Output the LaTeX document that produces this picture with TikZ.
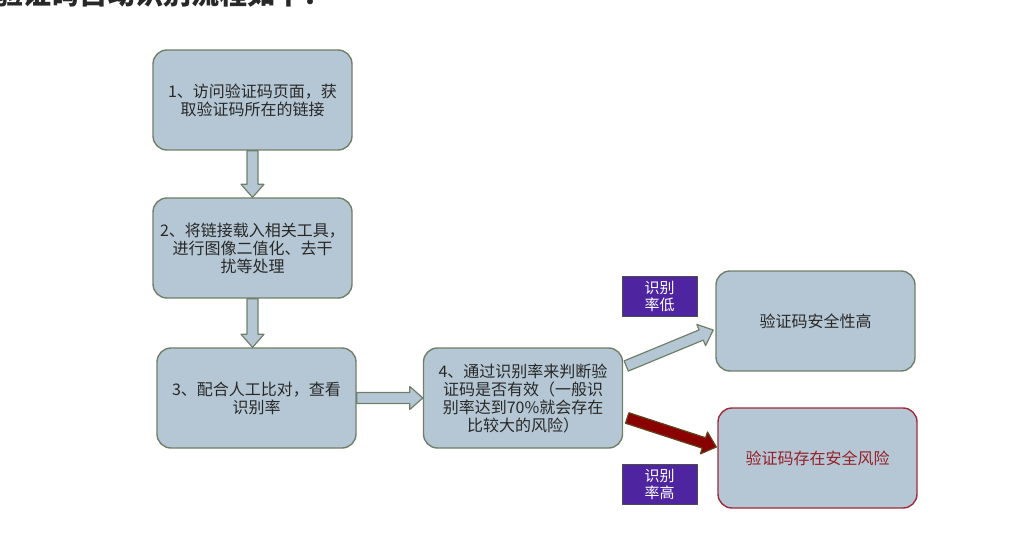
\documentclass[tikz,border=0pt]{standalone}
\usepackage{fontspec}
\newfontfamily\cjk{Noto Sans CJK SC}
\usetikzlibrary{calc}
\definecolor{Boxfill}{RGB}{181,199,212}
\definecolor{Boxline}{RGB}{112,128,104}
\definecolor{Riskline}{RGB}{158,42,58}
\definecolor{Risktext}{RGB}{150,30,40}
\definecolor{Redarrow}{RGB}{138,0,0}
\definecolor{Redrim}{RGB}{96,70,30}
\definecolor{Tagfill}{RGB}{78,36,160}
\definecolor{Inktext}{RGB}{40,40,40}

% block arrow from #2 to #3, style #1
\newcommand{\blockarrow}[3][]{%
  \path[#1] let \p1=($(#3)-(#2)$), \n1={veclen(\x1,\y1)}, \n2={atan2(\y1,\x1)} in
    [shift={(#2)},rotate=\n2] (0pt,-5.5pt) -- (\n1-13pt,-5.5pt) -- (\n1-13pt,-11.5pt)
    -- (\n1,0pt) -- (\n1-13pt,11.5pt) -- (\n1-13pt,5.5pt) -- (0pt,5.5pt) -- cycle;}

\begin{document}
\begin{tikzpicture}[x=1pt,y=-1pt,line join=round,
  stepbox/.style={draw=Boxline,line width=1.4pt,fill=Boxfill,rounded corners=14pt,minimum width=199pt,minimum height=100pt,align=center,text=Inktext,font=\cjk\fontsize{16}{18}\selectfont},
  riskbox/.style={stepbox,draw=Riskline,text=Risktext},
  ratetag/.style={draw=black!70,line width=1pt,fill=Tagfill,minimum width=75pt,minimum height=40pt,inner sep=0pt,align=center,text=white,font=\cjk\fontsize{15}{17}\selectfont},
  flowarrow/.style={draw=Boxline,line width=1.2pt,fill=Boxfill},
  riskarrow/.style={draw=Redrim,line width=1.2pt,fill=Redarrow}]
\path[use as bounding box] (0,0) rectangle (1032,537);
\clip (0,0) rectangle (1032,537);
\node[anchor=base west,text=Inktext,font=\cjk\bfseries\fontsize{28}{30}\selectfont] (title) at (-8,5) {验证码自动识别流程如下：};
\node[stepbox] (box1) at (252.5,100) {1、访问验证码页面，获\\取验证码所在的链接};
\node[stepbox] (box2) at (252.5,248) {2、将链接载入相关工具，\\进行图像二值化、去干\\扰等处理};
\node[stepbox] (box3) at (256.5,398) {3、配合人工比对，查看\\识别率};
\node[stepbox] (box4) at (523,398) {4、通过识别率来判断验\\证码是否有效（一般识\\别率达到70\%就会存在\\比较大的风险）};
\node[stepbox] (box5) at (815.5,321) {验证码安全性高};
\node[riskbox] (box6) at (817.5,458) {验证码存在安全风险};
\node[ratetag] (low) at (659.5,296) {识别\\率低};
\node[ratetag] (high) at (659.5,484) {识别\\率高};
\coordinate (dropin) at (box2.south |- box3.north);
\coordinate (lowtail) at ([shift={(3,-32)}]box4.east);
\coordinate (lowtip) at ([shift={(-2,9)}]box5.west);
\coordinate (hightail) at ([shift={(4,20)}]box4.east);
\coordinate (hightip) at ([shift={(-1,-11)}]box6.west);
\blockarrow[flowarrow]{box1.south}{box2.north}
\blockarrow[flowarrow]{box2.south}{dropin}
\blockarrow[flowarrow]{box3.east}{box4.west}
\blockarrow[flowarrow]{lowtail}{lowtip}
\blockarrow[riskarrow]{hightail}{hightip}
\end{tikzpicture}
\end{document}
